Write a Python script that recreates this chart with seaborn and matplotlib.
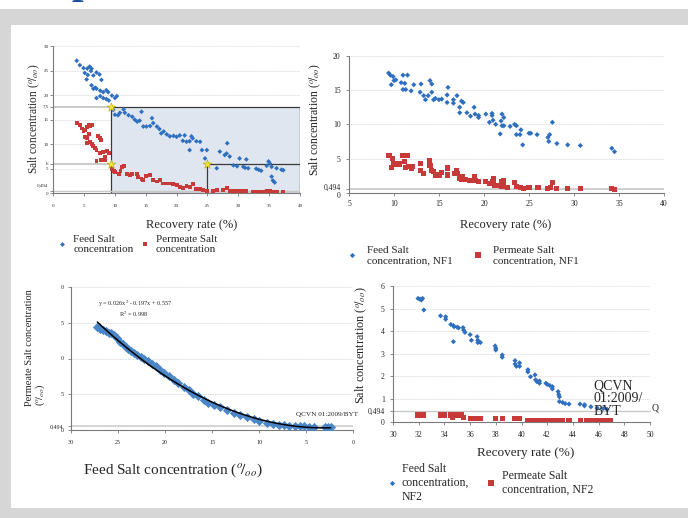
import numpy as np
import pandas as pd
import matplotlib
matplotlib.use('Agg')
import matplotlib.pyplot as plt
from matplotlib.patches import Rectangle
from matplotlib.transforms import ScaledTranslation
import seaborn as sns

# ---------------- data ----------------
QCVN = 0.494

# Panel 1 (recovery rate vs salt concentration)
p1_feed = [(3.8,27.0),(4.3,26.1),(4.9,25.5),(5.5,25.4),(5.9,25.8),(6.2,25.4),(5.1,24.5),(5.6,24.1),(6.1,24.9),
           (6.5,24.0),(7.0,24.6),(7.5,24.2),(7.8,23.1),(5.4,23.2),(6.2,22.0),(6.5,21.3),(6.8,21.5),(7.0,21.3),
           (7.6,20.9),(8.1,20.6),(8.6,21.0),(8.9,20.6),(7.0,19.4),(7.6,19.8),(8.1,19.4),(8.6,19.2),(9.0,18.9),
           (9.5,19.9),(10.0,19.4),(10.3,19.8),(9.7,17.0),(10.0,16.0),(10.5,15.9),(10.8,16.4),(11.4,17.1),
           (11.6,16.4),(12.2,15.9),(12.8,15.6),(13.2,15.0),(13.6,14.6),(14.0,14.8),(14.3,16.6),(14.6,13.6),
           (15.1,13.6),(15.7,13.7),(16.0,15.3),(16.2,14.3),(16.8,13.6),(17.2,13.1),(17.5,12.2),(17.9,12.6),
           (18.4,12.0),(18.9,11.6),(19.5,11.7),(20.0,11.5),(20.5,11.8),(21.3,11.8),(21.0,10.7),(21.6,10.5),
           (22.1,10.6),(22.4,11.6),(22.6,11.2),(22.1,8.8),(23.2,10.6),(23.8,10.5),(24.1,8.8),(24.9,8.8),
           (24.6,7.1),(26.5,5.1),(27.0,8.5),(27.8,7.8),(28.1,8.1),(28.2,10.2),(28.6,7.5),(29.2,5.7),(29.8,5.5),
           (30.2,7.1),(30.8,5.4),(31.1,5.2),(31.3,6.9),(31.6,5.1),(32.9,5.0),(33.3,4.8),(33.7,4.6),(34.6,5.6),
           (34.9,6.5),(35.1,6.1),(35.4,5.4),(35.4,3.4),(35.6,2.6),(35.9,2.2),(36.2,5.1),(37.0,4.8),(37.3,4.7)]
p1_perm = [(3.8,14.4),(4.3,13.9),(4.6,13.2),(4.9,12.6),(5.1,12.8),(5.4,13.5),(5.8,13.9),(6.0,13.6),(6.2,13.9),
           (5.1,11.5),(5.5,11.2),(5.8,12.0),(5.4,10.2),(6.0,10.4),(6.2,10.0),(6.5,9.6),(6.8,9.2),(7.0,8.8),
           (7.3,11.7),(7.6,11.3),(7.8,10.9),(7.6,8.2),(8.1,8.5),(8.4,7.5),(7.0,6.5),(7.8,6.8),(8.4,6.8),
           (8.7,8.7),(9.0,8.2),(9.5,5.0),(9.8,4.6),(10.0,4.3),(10.6,4.0),(10.9,4.6),(11.2,5.3),(11.4,5.5),
           (11.9,4.0),(12.4,3.8),(12.8,4.0),(13.5,4.0),(13.8,3.4),(14.3,3.0),(14.6,2.7),(15.1,3.5),(15.7,3.7),
           (16.2,2.7),(16.8,2.4),(17.3,2.7),(17.8,2.0),(18.4,2.0),(18.9,2.0),(19.4,1.9),(20.0,1.6),(20.5,1.2),
           (21.1,1.0),(21.6,1.4),(22.1,1.2),(22.6,1.8),(23.2,0.9),(23.8,0.8),(24.3,0.6),(24.9,0.5),(25.9,0.4),
           (26.5,0.6),(27.5,0.6),(28.1,1.0),(28.6,0.4),(29.2,0.4),(29.7,0.45),(30.2,0.45),(30.7,0.45),
           (31.2,0.4),(32.3,0.3),(32.9,0.3),(33.4,0.3),(34.0,0.3),(34.6,0.55),(35.1,0.4),(35.6,0.3),
           (36.2,0.3),(37.3,0.3)]
p1_star_x = [9.3, 9.3, 25.0]
p1_star_y = [17.6, 6.0, 6.0]
p1_rec_min, p1_rec_mid = 9.3, 25.0
p1_feed_lim, p1_perm_lim = 17.6, 6.0
p1_yticks = [0, QCVN, 5, 6, 10, 15, 17.6, 20, 25, 30]
p1_ylabels = ['0', '0,494', '5', '6', '10', '15', '7,5', '20', '25', '30']

# Panel 2 (NF1)
p2_feed = [(9.4,17.5),(9.6,17.2),(9.9,17.0),(9.7,15.8),(10.0,16.4),(10.2,16.5),(10.8,16.1),(11.0,17.2),
           (11.5,17.2),(11.2,16.0),(11.0,15.1),(11.3,15.1),(11.9,14.9),(12.2,15.8),(12.9,14.7),(13.0,15.9),
           (13.3,14.2),(13.5,13.6),(13.8,14.2),(14.0,16.4),(14.2,15.9),(14.2,14.7),(14.4,13.6),(14.6,13.8),
           (15.0,13.6),(15.3,13.7),(15.9,14.3),(16.0,15.4),(15.9,13.2),(16.6,13.6),(16.6,13.1),(17.0,14.2),
           (17.3,12.5),(17.3,11.7),(17.5,13.4),(17.7,13.2),(18.1,11.7),(18.5,11.2),(18.9,12.5),(19.0,11.5),
           (19.4,11.3),(19.4,11.0),(20.2,11.5),(20.6,10.3),(20.9,11.6),(20.9,11.3),(21.0,10.6),(21.3,10.0),
           (22.0,11.5),(22.2,11.0),(21.9,10.5),(22.0,9.8),(22.2,9.8),(21.8,8.6),(22.9,9.7),(23.4,10.0),
           (23.6,9.8),(23.6,8.5),(24.0,8.5),(24.1,9.2),(24.3,7.0),(25.0,8.7),(25.2,8.7),(25.9,8.5),
           (27.1,8.1),(27.3,8.5),(27.2,7.5),(27.6,10.3),(28.1,7.2),(29.3,7.0),(30.7,6.9),(34.2,6.5),(34.5,6.0)]
p2_perm = [(9.45,5.5),(9.8,5.0),(10.0,4.2),(9.7,3.7),(10.3,4.3),(10.6,4.2),(10.9,5.4),(11.5,5.5),(11.2,4.6),
           (11.3,3.7),(11.6,3.8),(11.9,3.6),(12.1,3.8),(12.9,4.3),(12.9,3.3),(13.3,2.8),(13.9,4.7),(14.0,4.0),
           (14.2,3.3),(14.4,3.1),(14.6,2.6),(15.0,2.6),(15.3,3.0),(15.9,3.6),(15.9,2.6),(16.7,2.8),(16.9,3.2),
           (17.1,2.8),(17.3,2.1),(17.5,1.9),(17.6,2.35),(17.9,1.9),(18.4,1.8),(18.9,2.3),(19.0,1.8),(19.4,1.6),
           (20.2,1.6),(20.6,1.4),(21.0,1.6),(21.1,2.0),(21.2,1.1),(21.5,1.1),(22.0,1.6),(22.2,1.7),(22.0,0.9),
           (22.2,0.9),(22.6,0.8),(23.4,1.45),(23.6,0.9),(24.1,0.8),(24.4,0.64),(25.0,0.8),(26.0,0.75),
           (27.1,0.64),(27.4,0.8),(27.6,1.45),(28.1,0.64),(29.3,0.64),(30.7,0.64),(34.2,0.64),(34.5,0.5)]
p2_yticks = [0, QCVN, 5, 10, 15, 20]
p2_ylabels = ['0', '0,494', '5', '10', '15', '20']

# Panel 3 (feed vs permeate)
p3_feed = [27.2,26.9,26.6,26.3,26.0,25.7,25.4,25.1,24.8,24.5,24.2,23.9,23.6,23.35,23.0,22.6,22.2,21.8,21.4,
           21.0,20.5,20.1,19.6,19.1,18.6,18.0,17.5,17.0,16.5,15.9,15.4,14.85,14.2,13.4,12.7,12.0,11.3,10.6,
           10.0,9.2,8.5,7.9,7.4,6.8,6.2,5.7,5.2,4.7,4.2,3.0,2.7,2.4]
p3_perm = [14.4,14.1,14.0,13.8,13.6,13.5,13.3,12.8,12.3,12.0,11.65,11.3,11.0,10.7,10.5,10.2,9.9,9.6,9.3,
           8.9,8.4,8.0,7.5,7.0,6.6,6.05,5.6,5.1,4.7,4.2,3.8,3.5,3.2,2.8,2.4,2.1,1.85,1.6,1.3,1.0,0.85,0.75,
           0.7,0.62,0.58,0.56,0.5,0.48,0.47,0.47,0.47,0.47]
p3_yticks = [0, QCVN, 5, 10, 15, 20]
p3_ylabels = ['0', '0,494', '5', '0', '5', '0']
p3_xticks = [30, 25, 20, 15, 10, 5, 0]

# Panel 4 (NF2)
p4_feed = [(31.95,5.45),(32.1,5.42),(32.2,5.38),(32.3,5.45),(32.4,4.94),(33.7,4.68),(34.1,4.64),(34.1,4.53),
           (34.5,4.3),(34.7,4.25),(34.75,4.2),(34.7,3.54),(35.0,4.18),(35.1,4.15),(35.45,4.16),(35.5,4.05),
           (35.6,3.95),(36.0,3.85),(36.1,3.6),(36.55,3.76),(36.6,3.6),(36.6,3.5),(36.8,3.5),(37.95,3.35),
           (38.0,3.25),(38.0,3.17),(38.5,2.95),(38.5,2.85),(39.5,2.7),(39.5,2.55),(39.6,2.45),(39.85,2.6),
           (39.85,2.45),(40.5,2.3),(40.5,2.2),(40.7,1.99),(41.05,2.07),(41.1,1.85),(41.2,1.77),(41.4,1.8),
           (41.4,1.7),(41.9,1.7),(42.0,1.65),(42.2,1.6),(42.4,1.55),(42.4,1.45),(42.85,1.33),(42.9,1.2),
           (42.95,1.1),(42.95,0.89),(43.2,0.85),(43.4,0.8),(43.7,0.78),(44.55,0.78),(44.9,0.7),(44.9,0.75),
           (45.4,0.66),(45.9,0.6),(46.35,0.58),(46.65,0.55)]
p4_perm = [(31.9,0.3),(32.0,0.3),(32.1,0.3),(32.2,0.3),(32.3,0.3),(32.4,0.3),(33.7,0.3),(34.0,0.3),
           (34.5,0.3),(34.6,0.18),(34.7,0.3),(35.0,0.3),(35.3,0.3),(35.5,0.18),(36.0,0.15),(36.4,0.15),
           (36.8,0.15),(38.0,0.15),(38.5,0.15),(39.5,0.15),(39.8,0.15),(40.5,0.05),(40.7,0.05),(41.0,0.05),
           (41.3,0.05),(41.6,0.05),(42.0,0.05),(42.2,0.05),(42.5,0.05),(42.9,0.05),(43.2,0.05),(43.7,0.05),
           (44.6,0.05),(45.1,0.05),(45.5,0.05),(45.9,0.05),(46.3,0.05),(46.6,0.05),(46.9,0.05)]
p4_yticks = [0, QCVN, 1, 2, 3, 4, 5, 6]
p4_ylabels = ['0', '0,494', '1', '2', '3', '4', '5', '6']

# ---------------- style ----------------
sns.set_style('white')
plt.rcParams['font.family'] = ['Liberation Serif', 'DejaVu Serif']
plt.rcParams['mathtext.fontset'] = 'stix'

BLUE = '#2f6fc0'
RED = '#c83a3a'
BLUE3 = '#4a86c8'
GRAY = '#d6d6d6'
W, H = 688, 518
PERMIL = r'($^{o}\!/_{oo}$)'

fig = plt.figure(figsize=(W / 100, H / 100), dpi=100)
fig.patch.set_facecolor(GRAY)
fig.add_artist(Rectangle((0, 1 - 9 / H), 1, 9 / H, transform=fig.transFigure,
                         facecolor='white', edgecolor='none', zorder=-5))
fig.add_artist(Rectangle((11 / W, 1 - 508 / H), (W - 11) / W, (508 - 25) / H,
                         transform=fig.transFigure, facecolor='white', edgecolor='none', zorder=-5))
fig.text(72 / W, 1 + 7 / H, 'p', color='#1f4e9a', fontsize=30, fontweight='bold',
         ha='left', va='baseline')


def px_axes(x0, y0, x1, y1):
    ax = fig.add_axes([x0 / W, 1 - y1 / H, (x1 - x0) / W, (y1 - y0) / H])
    ax.patch.set_alpha(0)
    return ax


def style(ax, fs, xpad, ypad):
    for s in ['top', 'right']:
        ax.spines[s].set_visible(False)
    for s in ['left', 'bottom']:
        ax.spines[s].set_color('#7a7a7a')
        ax.spines[s].set_linewidth(0.8)
    ax.tick_params(axis='x', bottom=True, labelsize=fs, length=2, width=0.6, color='#7a7a7a', pad=xpad)
    ax.tick_params(axis='y', left=True, labelsize=fs, length=2, width=0.6, color='#7a7a7a', pad=ypad)
    ax.yaxis.grid(True, color='#cfcfcf', linestyle=(0, (1, 1)), lw=0.6)
    ax.xaxis.grid(False)
    ax.set_axisbelow(True)


def shift_label(ax, text, dy_px):
    for lab in ax.get_yticklabels():
        if lab.get_text() == text:
            lab.set_transform(lab.get_transform() + ScaledTranslation(0, dy_px / 100, fig.dpi_scale_trans))


def two_series(ax, feed, perm, nf, npm, sf, sp):
    df = pd.DataFrame({
        'x': [p[0] for p in feed] + [p[0] for p in perm],
        'y': [p[1] for p in feed] + [p[1] for p in perm],
        'series': [nf] * len(feed) + [npm] * len(perm)})
    sns.scatterplot(data=df, x='x', y='y', hue='series', style='series', size='series',
                    palette={nf: BLUE, npm: RED}, markers={nf: 'D', npm: 's'},
                    sizes={nf: sf, npm: sp}, linewidth=0, ax=ax, zorder=3)


# ---------------- panel 1 ----------------
ax1 = px_axes(53.3, 46, 300, 193.3)
ax1.add_patch(Rectangle((p1_rec_min, 0), 40 - p1_rec_min, p1_feed_lim, facecolor='#dfe6ef',
                        edgecolor='#3a3a3a', lw=0.9, zorder=1))
ax1.plot([p1_rec_mid, p1_rec_mid, 40], [0, p1_perm_lim, p1_perm_lim], color='#3a3a3a', lw=0.9, zorder=2)
ax1.plot([0, p1_rec_min], [p1_feed_lim, p1_feed_lim], color='#c4c4c4', lw=1.2, zorder=2)
ax1.plot([0, p1_rec_min], [p1_perm_lim, p1_perm_lim], color='#c4c4c4', lw=1.2, zorder=2)
ax1.axhline(QCVN, color='#c8c8c8', lw=1.0, zorder=2)
two_series(ax1, p1_feed, p1_perm, 'Feed Salt\nconcentration', 'Permeate Salt\nconcentration', 6, 8)
ax1.scatter(p1_star_x, p1_star_y, marker='*', s=45, color='#f3e33c', edgecolor='#b8a500', lw=0.4, zorder=5)
ax1.set_xlim(0, 40)
ax1.set_ylim(0, 30)
ax1.set_xticks(range(0, 41, 5))
ax1.set_yticks(p1_yticks, p1_ylabels)
style(ax1, 3.6, 6, 1.5)
shift_label(ax1, '0,494', 5)
ax1.set_xlabel('Recovery rate (%)', fontsize=9)
ax1.xaxis.set_label_coords(0.562, -0.174)
ax1.set_ylabel('Salt concentration ' + PERMIL, fontsize=8.3)
ax1.yaxis.set_label_coords(-0.046, 0.508)
sns.move_legend(ax1, 'upper left', bbox_to_anchor=(0.013, -0.283), ncol=2, frameon=False, title=None,
                fontsize=8, handlelength=1, handletextpad=0.5, columnspacing=0.5,
                borderpad=0, borderaxespad=0)

# ---------------- panel 2 ----------------
ax2 = px_axes(349, 56, 664, 192.7)
ax2.axhline(QCVN, color='#c8c8c8', lw=1.2, zorder=2)
two_series(ax2, p2_feed, p2_perm, 'Feed Salt\nconcentration, NF1', 'Permeate Salt\nconcentration, NF1', 7, 14)
ax2.set_xlim(5, 40)
ax2.set_ylim(0, 20)
ax2.set_xticks(range(5, 41, 5))
ax2.set_yticks(p2_yticks, p2_ylabels)
style(ax2, 5.5, 3, 4)
shift_label(ax2, '0,494', 2.5)
shift_label(ax2, '0', -2)
ax2.set_xlabel('Recovery rate (%)', fontsize=9)
ax2.xaxis.set_label_coords(0.497, -0.192)
ax2.set_ylabel('Salt concentration ' + PERMIL, fontsize=8.5)
ax2.yaxis.set_label_coords(-0.082, 0.532)
sns.move_legend(ax2, 'upper left', bbox_to_anchor=(-0.007, -0.39), ncol=2, frameon=False, title=None,
                fontsize=8, handlelength=1, handletextpad=0.84, columnspacing=1.75,
                borderpad=0, borderaxespad=0)

# ---------------- panel 3 ----------------
ax3 = px_axes(71, 287, 353.3, 430)
ax3.axhline(QCVN, color='#d0d0d0', lw=1.2, zorder=2)
sns.scatterplot(x=p3_feed, y=p3_perm, marker='D', s=22, color=BLUE3, linewidth=0, ax=ax3, zorder=3)
sns.regplot(x=np.array(p3_feed), y=np.array(p3_perm), order=2, scatter=False, ci=None, truncate=True,
            line_kws=dict(color='black', lw=1.1, zorder=4), ax=ax3)
ax3.set_xlim(30, 0)
ax3.set_ylim(0, 20)
ax3.set_xticks(p3_xticks)
ax3.set_yticks(p3_yticks, p3_ylabels)
style(ax3, 4.3, 5, 3.5)
ax3.text(23.2, 17.6, r'y = 0.026x$^{2}$ - 0.197x + 0.557', fontsize=4.5, ha='center', va='center')
ax3.text(23.3, 16.2, r'R$^{2}$ = 0.998', fontsize=4.5, ha='center', va='center')
ax3.text(6.1, 2.2, 'QCVN 01:2009/BYT', fontsize=5.2, ha='left', va='center', clip_on=False)
ax3.set_xlabel('Feed Salt concentration ' + PERMIL, fontsize=11)
ax3.xaxis.set_label_coords(0.361, -0.224)
ax3.set_ylabel('Permeate Salt concentration\n' + PERMIL, fontsize=7.5, multialignment='left',
               linespacing=0.95)
ax3.yaxis.set_label_coords(-0.085, 0.573)

# ---------------- panel 4 ----------------
ax4 = px_axes(393, 286, 650, 421.7)
ax4.plot([30, 50], [QCVN, QCVN], color='#c8c8c8', lw=1.0, zorder=2, clip_on=False)
two_series(ax4, p4_feed, p4_perm, 'Feed Salt\nconcentration,\nNF2', 'Permeate Salt\nconcentration, NF2', 7, 14)
ax4.set_xlim(30, 50)
ax4.set_ylim(0, 6)
ax4.set_xticks(range(30, 51, 2))
ax4.set_yticks(p4_yticks, p4_ylabels)
style(ax4, 5.5, 4.5, 4)
ax4.text(45.6, 1.85, 'QCVN\n01:2009/\nBYT', fontsize=10, ha='left', va='top', linespacing=0.95,
         clip_on=False)
ax4.text(50.15, 0.62, 'Q', fontsize=7, ha='left', va='center', clip_on=False)
ax4.set_xlabel('Recovery rate (%)', fontsize=9.5)
ax4.xaxis.set_label_coords(0.516, -0.186)
ax4.set_ylabel('Salt concentration ' + PERMIL, fontsize=8.8)
ax4.yaxis.set_label_coords(-0.093, 0.565)
sns.move_legend(ax4, 'upper left', bbox_to_anchor=(-0.028, -0.304), ncol=2, frameon=False, title=None,
                fontsize=8.5, handlelength=1, handletextpad=0.37, columnspacing=1.36,
                borderpad=0, borderaxespad=0)

fig.savefig('out.png', dpi=100, facecolor=fig.get_facecolor())
